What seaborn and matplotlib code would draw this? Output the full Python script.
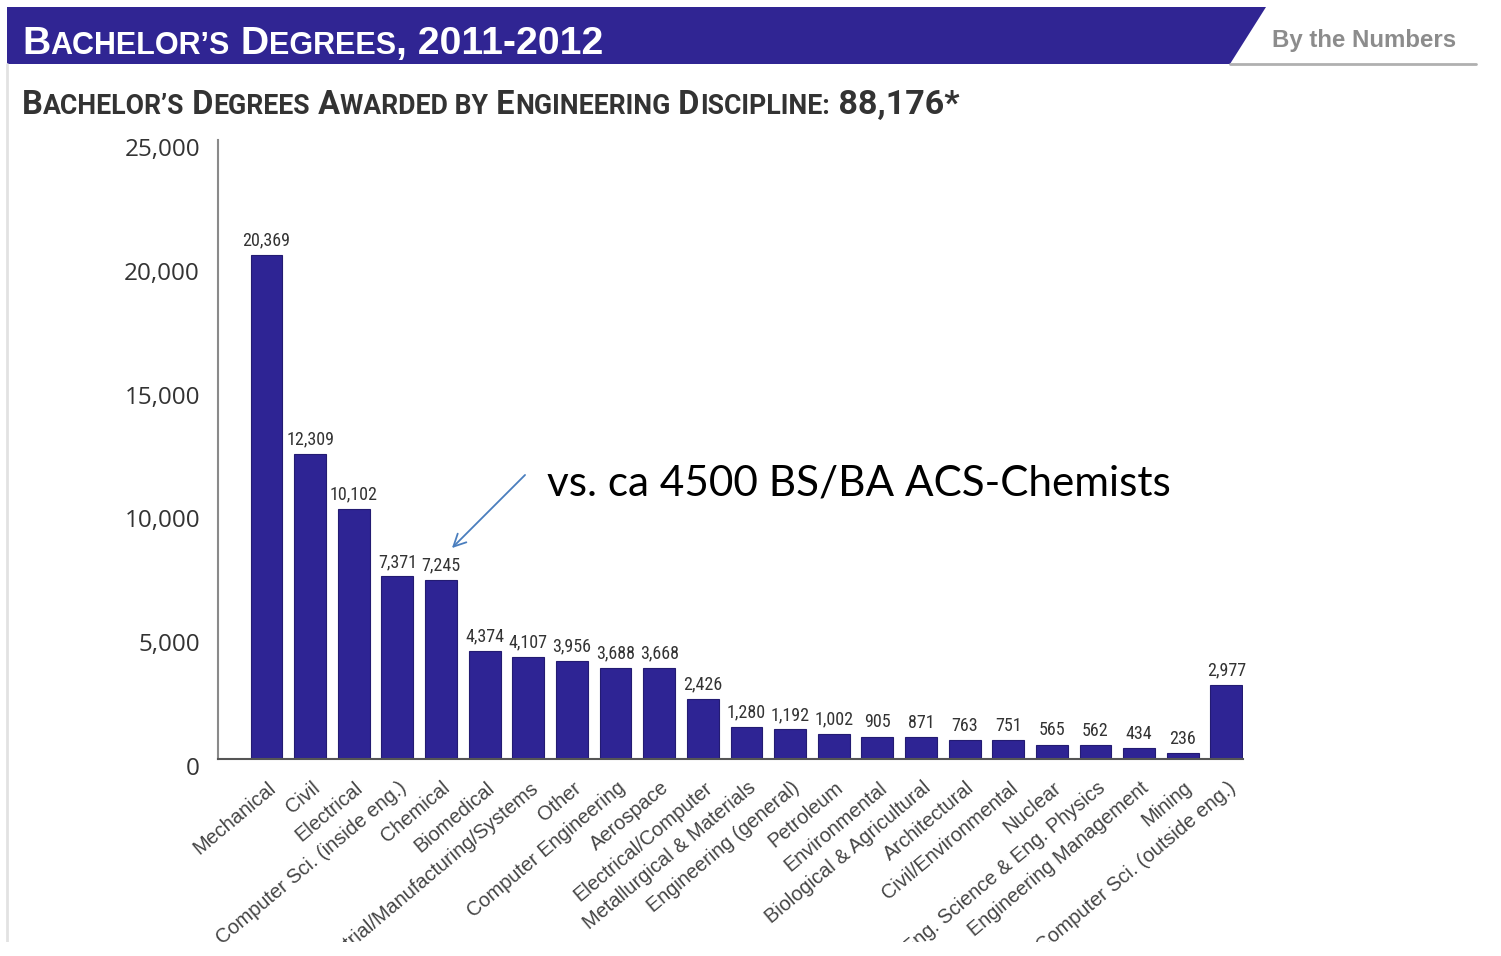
import matplotlib
matplotlib.use("Agg")
import matplotlib.pyplot as plt
import seaborn as sns
import pandas as pd
from matplotlib.patches import Polygon, Rectangle
from matplotlib.lines import Line2D
from matplotlib.transforms import ScaledTranslation

# ---------------- data ----------------
categories = [
    "Mechanical", "Civil", "Electrical", "Computer Sci. (inside eng.)", "Chemical",
    "Biomedical", "Industrial/Manufacturing/Systems", "Other", "Computer Engineering",
    "Aerospace", "Electrical/Computer", "Metallurgical & Materials",
    "Engineering (general)", "Petroleum", "Environmental", "Biological & Agricultural",
    "Architectural", "Civil/Environmental", "Nuclear", "Eng. Science & Eng. Physics",
    "Engineering Management", "Mining", "Computer Sci. (outside eng.)",
]
values = [20369, 12309, 10102, 7371, 7245, 4374, 4107, 3956, 3688, 3668, 2426, 1280,
          1192, 1002, 905, 871, 763, 751, 565, 562, 434, 236, 2977]
yticks = [0, 5000, 10000, 15000, 20000, 25000]
ytick_labels = ["0", "5,000", "10,000", "15,000", "20,000", "25,000"]

title_parts = [("B", "big"), ("ACHELOR\u2019S", "small"), (" D", "big"),
               ("EGREES", "small"), (", 2011-2012", "big")]
subtitle_parts = [("B", "big"), ("ACHELOR\u2019S", "small"), (" D", "big"),
                  ("EGREES", "small"), (" A", "big"), ("WARDED BY", "small"),
                  (" E", "big"), ("NGINEERING", "small"), (" D", "big"),
                  ("ISCIPLINE:", "small"), (" 88,176*", "num")]
corner_label = "By the Numbers"
note_text = "vs. ca 4500 BS/BA ACS-Chemists"

# ---------------- style ----------------
BAR = "#2e2494"
BANNER = "#302593"
W, H = 1501, 956
NARROW = ["Roboto Condensed", "Roboto", "DejaVu Sans"]

sns.set_style("white")
plt.rcParams["font.family"] = ["Liberation Sans", "DejaVu Sans"]

fig = plt.figure(figsize=(W / 100, H / 100), dpi=100)
fig.patch.set_facecolor("white")


def fx(px):
    return px / W


def fy(py):
    return 1 - py / H


ax = fig.add_axes([fx(218), fy(759), fx(1243) - fx(218), fy(140) - fy(759)])
df = pd.DataFrame({"discipline": categories, "degrees": values})
sns.barplot(data=df, x="discipline", y="degrees", color=BAR, saturation=1,
            width=0.73, ax=ax, edgecolor="#231b72", linewidth=0.8)
ax.set_xlim(-1.11, 22.38)
ax.set_ylim(0, 25000)
ax.set_xlabel("")
ax.set_ylabel("")
ax.set_yticks(yticks)
ax.set_yticklabels(ytick_labels, family=["Open Sans", "DejaVu Sans"],
                   fontsize=17.5, color="#333333")
ax.tick_params(axis="y", direction="in", length=18, width=1.5, color="#8a8a8a", pad=13)
ax.tick_params(axis="x", length=0, pad=19)
for lab in ax.get_yticklabels():
    lab.set_transform(lab.get_transform() + ScaledTranslation(0, -5 / 72, fig.dpi_scale_trans))
for lab in ax.get_xticklabels():
    lab.set_rotation(40)
    lab.set_ha("right")
    lab.set_va("center")
    lab.set_rotation_mode("anchor")
    lab.set_fontsize(14.4)
    lab.set_color("#444444")
    lab.set_transform(lab.get_transform() + ScaledTranslation(5 / 72, 0, fig.dpi_scale_trans))

for side in ["top", "right"]:
    ax.spines[side].set_visible(False)
ax.spines["left"].set_color("#8a8a8a")
ax.spines["left"].set_linewidth(1.5)
ax.spines["bottom"].set_color("#555555")
ax.spines["bottom"].set_linewidth(1.5)
ax.grid(False)

for cont in ax.containers:
    ax.bar_label(cont, labels=[f"{v:,}" for v in values], padding=4,
                 fontsize=13, family=NARROW, color="#333333")

# annotation
ax.annotate("", xy=(450, H - 550), xycoords="figure pixels",
            xytext=(527, H - 473), textcoords="figure pixels",
            arrowprops=dict(arrowstyle="->", color="#4a7ebe", lw=1.3,
                            mutation_scale=22))
fig.text(fx(547), fy(483), note_text, family=["Lato", "DejaVu Sans"], fontsize=30.4,
         color="black", va="center", ha="left")

# banner
fig.add_artist(Polygon([(fx(7), fy(7)), (fx(1266), fy(7)), (fx(1230), fy(64)), (fx(7), fy(64))],
                       closed=True, transform=fig.transFigure, facecolor=BANNER,
                       edgecolor="none"))
fig.add_artist(Line2D([fx(1230), fx(1476)], [fy(64), fy(64)], transform=fig.transFigure,
                      color="#b0b0b0", lw=2))
fig.add_artist(Line2D([fx(7), fx(7)], [fy(64), fy(942)], transform=fig.transFigure,
                      color="#e2e2e2", lw=2))
fig.text(fx(1272), fy(41), corner_label, fontsize=17.3, fontweight="bold",
         color="#8c8c8c", va="center", ha="left")

renderer = fig.canvas.get_renderer()


def smallcaps(x_px, base_px, parts, sizes, **kw):
    x = fx(x_px)
    for txt, kind in parts:
        t = fig.text(x, fy(base_px), txt, fontsize=sizes[kind], va="baseline",
                     ha="left", **kw)
        bb = t.get_window_extent(renderer)
        x += bb.width / W


smallcaps(22, 54, title_parts, {"big": 28.2, "small": 22}, color="white",
          fontweight="bold", family=["Liberation Sans", "DejaVu Sans"])
smallcaps(22, 114, subtitle_parts, {"big": 23.5, "small": 19.2, "num": 24.5},
          color="#333333", fontweight="bold", family=["Roboto", "DejaVu Sans"])

# page cut at the bottom
fig.add_artist(Rectangle((0, 0), 1, fy(942), transform=fig.transFigure,
                         facecolor="white", edgecolor="none", zorder=100))

fig.savefig("out.png", dpi=100)
